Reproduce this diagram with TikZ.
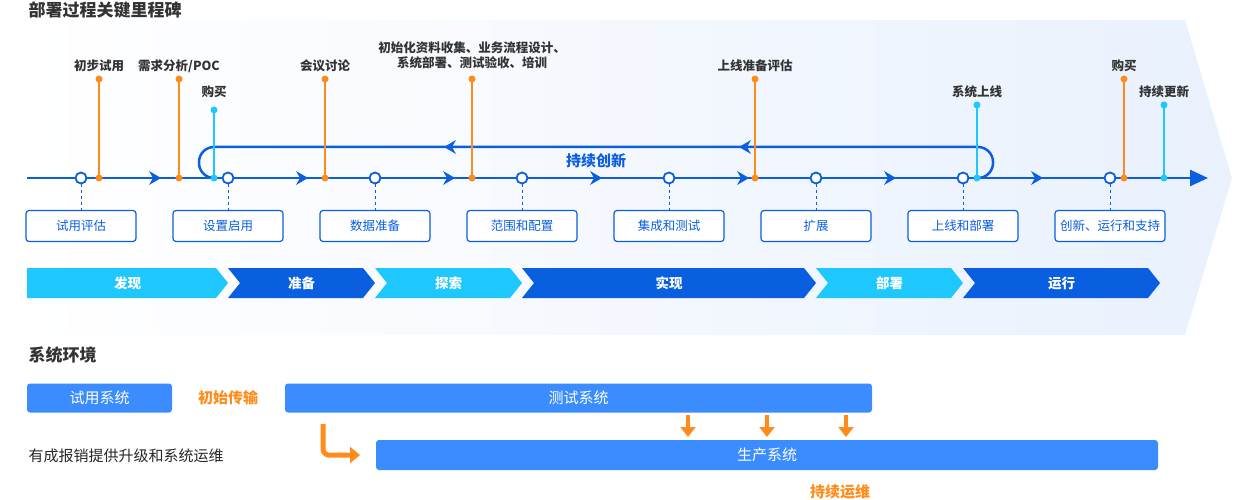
\documentclass[tikz,border=0pt]{standalone}
\usepackage{fontspec}
\setmainfont{Noto Sans CJK SC}
\usetikzlibrary{arrows.meta,shapes.symbols}
\definecolor{mainBlue}{HTML}{0A5FE0}
\definecolor{lightCyan}{HTML}{1EC8FF}
\definecolor{mileOrange}{HTML}{FF8C1A}
\definecolor{boxBlue}{HTML}{3A8CFF}
\definecolor{bgBlue}{HTML}{E9F1FD}
\begin{document}
\begin{tikzpicture}[x=1pt,y=-1pt,
  stepStyle/.style={draw=mainBlue, line width=1.2pt, rounded corners=3pt, fill=white, minimum width=110pt, minimum height=31pt, font=\fontsize{12.5}{12.5}\selectfont, text=mainBlue},
  dotStyle/.style={circle, draw=mainBlue, line width=1.8pt, fill=white, inner sep=0pt, minimum size=11pt},
  mileStyle/.style={font=\fontsize{12.5}{15}\selectfont\bfseries, text=black!80, align=center},
  sysStyle/.style={fill=boxBlue, rounded corners=3pt, text=white, font=\fontsize{15}{15}\selectfont, inner sep=0pt}]
\useasboundingbox (0,0) rectangle (1234,500);
% background
\shade[left color=white, right color=bgBlue] (25,20) -- (1185,20) -- (1232,178) -- (1185,335) -- (25,335) -- cycle;
\node[anchor=west, font=\fontsize{17}{17}\selectfont\bfseries, text=black!80] (title) at (25,10) {部署过程关键里程碑};
% main line
\coordinate (lineStart) at (27,178);
\coordinate (lineEnd) at (1208,178);
\draw[mainBlue, line width=2.5pt, -{Triangle[length=18pt,width=16pt]}] (lineStart) -- (lineEnd);
\foreach \x in {155,302,449,596,743,890,1037}
  \fill[mainBlue] (\x+6,178) -- (\x-6,171) -- (\x-2,178) -- (\x-6,185) -- cycle;
% loop
\draw[mainBlue, line width=2.5pt, rounded corners=15pt] (215,178) -- (199,178) -- (199,147) -- (993,147) -- (993,178) -- (975,178);
\foreach \x in {450,745}
  \fill[mainBlue] (\x-6,147) -- (\x+6,140) -- (\x+2,147) -- (\x+6,154) -- cycle;
\node[text=mainBlue, font=\fontsize{15}{15}\selectfont\bfseries] (loopText) at (596,161) {持续创新};
% steps
\foreach \i/\t in {0/试用评估,1/设置启用,2/数据准备,3/范围和配置,4/集成和测试,5/扩展,6/上线和部署,7/{创新、运行和支持}} {
  \node[stepStyle] (step\i) at (81+147*\i,226) {\t};
  \node[dotStyle] (dot\i) at (81+147*\i,178) {};
  \draw[mainBlue, dashed, line width=0.8pt] (dot\i) -- (step\i);
}
% milestones
\foreach \x/\ty/\c/\t/\ly in {99/79/mileOrange/初步试用/66, 179/79/mileOrange/{需求分析/POC}/66, 214/110/lightCyan/购买/92, 325/79/mileOrange/会议讨论/66, 472/79/mileOrange/{初始化资料收集、业务流程设计、\\系统部署、测试验收、培训}/55, 755/79/mileOrange/上线准备评估/66, 977/105/lightCyan/系统上线/92, 1124/79/mileOrange/购买/66, 1164/105/lightCyan/持续更新/92} {
  \coordinate (mTop) at (\x,\ty);
  \coordinate (mBot) at (\x,178);
  \draw[\c, line width=1.5pt] (mTop) -- (mBot);
  \fill[\c] (mTop) circle (3.5pt) (mBot) circle (3.5pt);
  \node[mileStyle] at (\x,\ly) {\t};
}
% phases
\foreach \a/\b/\c/\t in {27/228/lightCyan/发现, 228/375/mainBlue/准备, 375/522/lightCyan/探索, 522/816/mainBlue/实现, 816/963/lightCyan/部署, 963/1160/mainBlue/运行} {
  \fill[\c] (\a,268) -- (\b-12,268) -- (\b,283) -- (\b-12,298) -- (\a,298) -- (\a+12,283) -- cycle;
  \node[text=white, font=\fontsize{13.5}{13.5}\selectfont\bfseries] at ({(\a+\b)/2},283) {\t};
}
\fill[lightCyan] (27,268) -- (39,268) -- (39,298) -- (27,298) -- cycle;
% system environment
\node[anchor=west, font=\fontsize{17}{17}\selectfont\bfseries, text=black!80] (envTitle) at (25,355) {系统环境};
\node[sysStyle, minimum width=145pt, minimum height=29pt] (trialSys) at (99.5,398) {试用系统};
\node[text=mileOrange, font=\fontsize{15}{15}\selectfont\bfseries] (initText) at (228,398) {初始传输};
\node[sysStyle, minimum width=587pt, minimum height=29pt] (testSys) at (578.5,398) {测试系统};
\node[sysStyle, minimum width=782pt, minimum height=30pt] (prodSys) at (767,455) {生产系统};
\node[anchor=west, font=\fontsize{15}{15}\selectfont, text=black!85] (supportText) at (25,456) {有成报销提供升级和系统运维};
\node[text=mileOrange, font=\fontsize{15}{15}\selectfont\bfseries] (opsText) at (840,492) {持续运维};
\foreach \x in {688,767,846}
  \draw[mileOrange, line width=4pt, -{Triangle[length=10pt,width=15pt]}] (\x,415) -- (\x,437);
\coordinate (bendStart) at (323,424);
\draw[mileOrange, line width=5pt, rounded corners=6pt, -{Triangle[length=10pt,width=16pt]}] (bendStart) -- (323,455) -- (360,455);
\end{tikzpicture}
\end{document}
